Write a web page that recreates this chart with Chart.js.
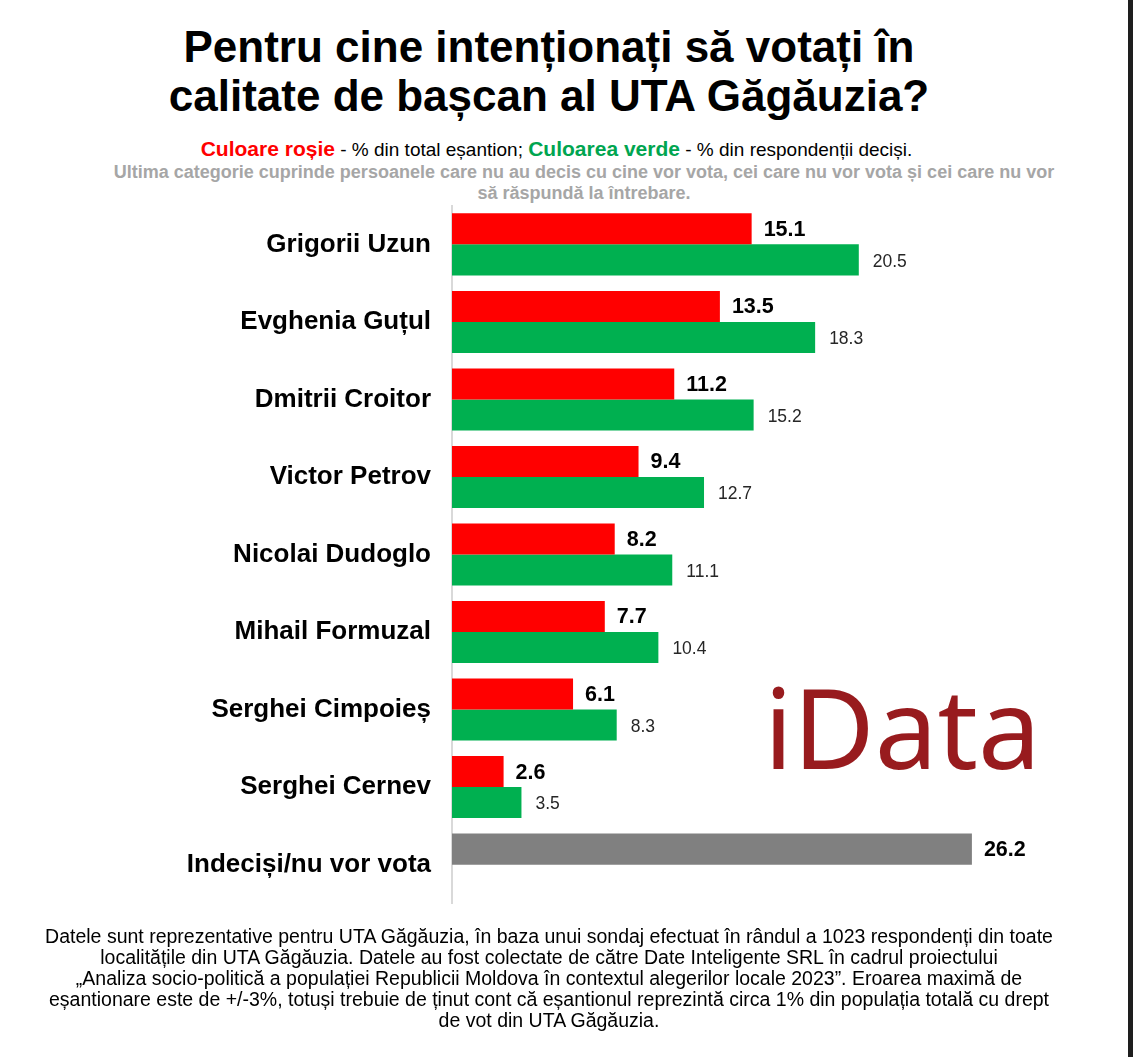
<!DOCTYPE html>
<html>
<head>
<meta charset="utf-8">
<script src="https://cdn.jsdelivr.net/npm/chart.js@4"></script>
<style>
  body { margin: 0; background: #fff; }
  #page { position: relative; width: 1133px; height: 1057px; overflow: hidden; font-family: "Liberation Sans", Arial, sans-serif; }
  .title { position: absolute; left: 0; width: 1098px; top: 22px; text-align: center; font-weight: bold; font-size: 44px; line-height: 49px; color: #000; }
  .sub { position: absolute; left: 0; width: 1113px; top: 137px; text-align: center; font-size: 19px; color: #000; }
  .sub b { font-size: 21px; }
  .note { position: absolute; left: 0; width: 1168px; top: 162px; text-align: center; font-size: 18px; line-height: 21px; font-weight: bold; color: #a6a6a6; }
  .foot { position: absolute; left: 0; width: 1098px; top: 926px; text-align: center; font-size: 19.5px; line-height: 21px; color: #000; }
  .logo { position: absolute; left: 764px; top: 670px; line-height: 1; font-family: "Noto Sans", sans-serif; font-size: 112px; color: #981b1e; }
  .edge { position: absolute; right: 0; top: 0; width: 5px; height: 1057px; background: #1e1e1e; }
  #wrap { position: absolute; left: 0; top: 169px; width: 1133px; height: 771px; }
</style>
</head>
<body>
<div id="page">
  <div class="title">Pentru cine intenționați să votați în<br>calitate de bașcan al UTA Găgăuzia?</div>
  <div class="sub"><b style="color:#ff0000">Culoare roșie</b> - % din total eșantion; <b style="color:#00a550">Culoarea verde</b> - % din respondenții deciși.</div>
  <div class="note">Ultima categorie cuprinde persoanele care nu au decis cu cine vor vota, cei care nu vor vota și cei care nu vor<br>să răspundă la întrebare.</div>
  <div id="wrap"><canvas id="chart"></canvas></div>
  <div class="logo">iData</div>
  <div class="foot">Datele sunt reprezentative pentru UTA Găgăuzia, în baza unui sondaj efectuat în rândul a 1023 respondenți din toate<br>localitățile din UTA Găgăuzia. Datele au fost colectate de către Date Inteligente SRL în cadrul proiectului<br>„Analiza socio-politică a populației Republicii Moldova în contextul alegerilor locale 2023”. Eroarea maximă de<br>eșantionare este de +/-3%, totuși trebuie de ținut cont că eșantionul reprezintă circa 1% din populația totală cu drept<br>de vot din UTA Găgăuzia.</div>
  <div class="edge"></div>
</div>
<script>
const categories = ['Grigorii Uzun', 'Evghenia Guțul', 'Dmitrii Croitor', 'Victor Petrov', 'Nicolai Dudoglo',
  'Mihail Formuzal', 'Serghei Cimpoieș', 'Serghei Cernev', 'Indeciși/nu vor vota'];
const totalSample = [15.1, 13.5, 11.2, 9.4, 8.2, 7.7, 6.1, 2.6, 26.2];
const decided = [20.5, 18.3, 15.2, 12.7, 11.1, 10.4, 8.3, 3.5, null];

const RED = '#ff0000', GREEN = '#00b050', GREY = '#808080';

// value labels drawn next to each bar
const valueLabels = {
  id: 'valueLabels',
  afterDatasetsDraw(chart) {
    const ctx = chart.ctx;
    ctx.save();
    ctx.textBaseline = 'middle';
    ctx.textAlign = 'left';
    chart.data.datasets.forEach((ds, di) => {
      const meta = chart.getDatasetMeta(di);
      meta.data.forEach((bar, i) => {
        const v = ds.data[i];
        if (v == null) return;
        if (di === 0) {
          ctx.font = 'bold 21.5px "Liberation Sans", Arial, sans-serif';
          ctx.fillStyle = '#000';
          ctx.fillText(v.toFixed(1), bar.x + 12, bar.y + 1);
        } else {
          ctx.font = '17.5px "Liberation Sans", Arial, sans-serif';
          ctx.fillStyle = '#262626';
          ctx.fillText(v.toFixed(1), bar.x + 14, bar.y + 2);
        }
      });
    });
    ctx.restore();
  }
};

new Chart(document.getElementById('chart'), {
  type: 'bar',
  data: {
    labels: categories,
    datasets: [{
      label: '% din total eșantion',
      data: totalSample,
      backgroundColor: categories.map((c, i) => i === categories.length - 1 ? GREY : RED),
      categoryPercentage: 0.8,
      barPercentage: 1.0
    }, {
      label: '% din respondenții deciși',
      data: decided,
      backgroundColor: GREEN,
      categoryPercentage: 0.8,
      barPercentage: 1.0
    }]
  },
  options: {
    indexAxis: 'y',
    responsive: true,
    maintainAspectRatio: false,
    animation: false,
    layout: { padding: { left: 0, right: 46, top: 0, bottom: 0 } },
    plugins: { legend: { display: false }, tooltip: { enabled: false } },
    scales: {
      x: { display: false, min: 0, max: 32 },
      y: {
        afterFit: s => { s.width = 452; },
        grid: { display: false, drawTicks: false },
        border: { display: true, color: '#d9d9d9', width: 2 },
        ticks: {
          padding: 21,
          color: '#000',
          font: { family: '"Liberation Sans", Arial, sans-serif', size: 26, weight: 'bold' }
        }
      }
    }
  },
  plugins: [valueLabels]
});
</script>
</body>
</html>
